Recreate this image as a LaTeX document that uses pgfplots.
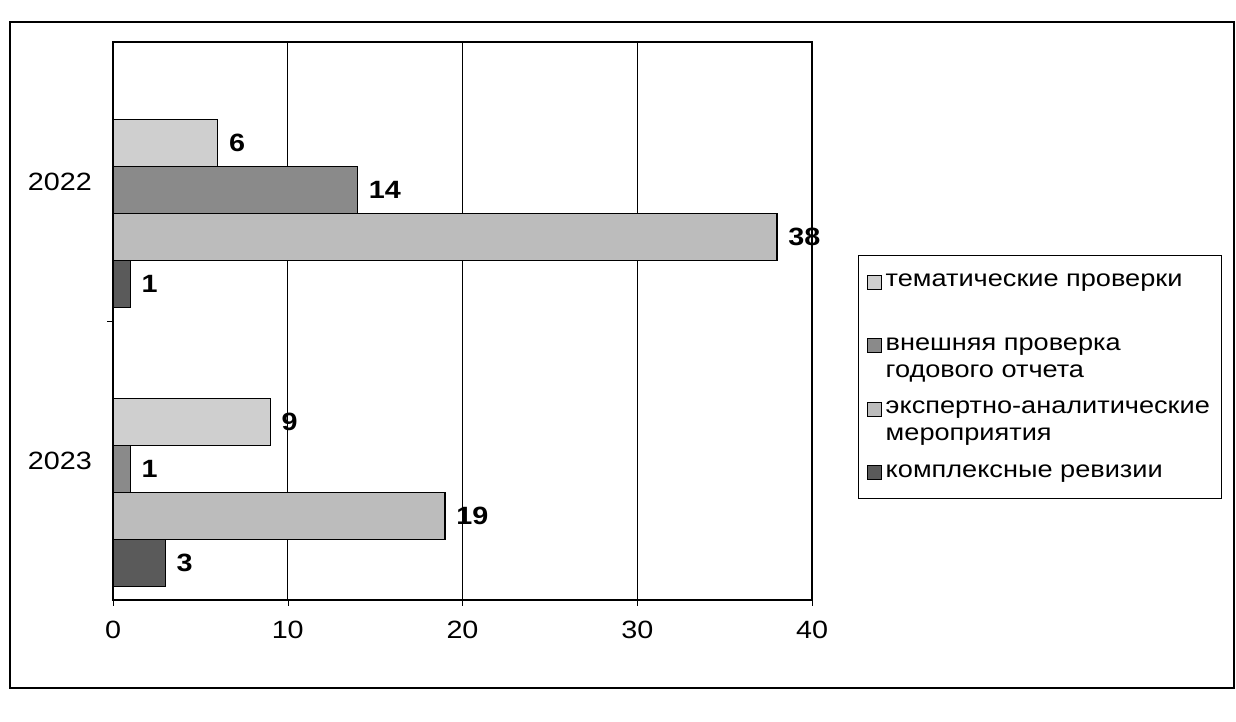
\documentclass[border=0pt]{standalone}
\usepackage{fontspec}
\setmainfont{Liberation Sans}[FakeStretch=1.15]
\usepackage{pgfplots}
\pgfplotsset{compat=1.18}

% shades of the four series
\definecolor{barA}{HTML}{CFCFCF}
\definecolor{barB}{HTML}{8A8A8A}
\definecolor{barC}{HTML}{BCBCBC}
\definecolor{barD}{HTML}{5A5A5A}

% legend squares: on the first line of a two-line entry, or centred
\pgfplotsset{
    sq top/.style={legend image code/.code={
        \draw[##1, line width=0.5pt] (0pt,3pt) rectangle (7pt,10pt);}},
    sq mid/.style={legend image code/.code={
        \draw[##1, line width=0.5pt] (0pt,-3.5pt) rectangle (7pt,3.5pt);}},
}

\begin{document}
\begin{tikzpicture}
\useasboundingbox (0,0) rectangle (618pt,361pt);
\draw[line width=0.6pt] (5pt,17pt) rectangle (617pt,350pt);

\begin{axis}[
    at={(56.5pt,61pt)}, anchor=south west,
    scale only axis,
    width=349.5pt, height=279pt,
    xbar,
    bar width=23.5pt,
    xmin=0, xmax=40,
    xtick={0,10,20,30,40},
    ymin=-0.5, ymax=1.5,
    ytick={0,1},
    yticklabels={2023,2022},
    ytick style={draw=none},
    extra y ticks={0.5},
    extra y tick labels={},
    extra y tick style={ytick style={draw=black}},
    tick pos=left,
    major tick length=3pt,
    xmajorgrids=true,
    grid style={black, line width=0.5pt},
    axis line style={black, line width=0.7pt},
    tick align=outside,
    xtick style={black},
    /pgf/number format/assume math mode=true,
    tick label style={font=\fontsize{12.5}{14}\selectfont},
    xticklabel style={yshift=-4pt},
    yticklabel style={xshift=-4pt},
    nodes near coords,
    every node near coord/.append style={font=\fontsize{12.5}{14}\selectfont\bfseries, xshift=2pt},
    legend cell align=left,
    legend style={
        at={(1.066,0.618)}, anchor=north west,
        draw=black, line width=0.6pt,
        font=\fontsize{11.8}{13.5}\selectfont,
        nodes={align=left},
        row sep=6.5pt,
        inner xsep=4pt, inner ysep=7pt,
    },
]

\addplot[sq top, bar shift=19.25pt, fill=barA, draw=black, line width=0.6pt]
    coordinates {(9,0) (6,1)};
\addplot[sq top, bar shift=-4.25pt, fill=barB, draw=black, line width=0.6pt]
    coordinates {(1,0) (14,1)};
\addplot[sq top, bar shift=-27.75pt, fill=barC, draw=black, line width=0.6pt]
    coordinates {(19,0) (38,1)};
\addplot[sq mid, bar shift=-51.25pt, fill=barD, draw=black, line width=0.6pt]
    coordinates {(3,0) (1,1)};

\legend{тематические проверки\\\mbox{},
        внешняя проверка\\годового отчета,
        экспертно-аналитические\\мероприятия,
        комплексные ревизии}
\end{axis}
\end{tikzpicture}
\end{document}
